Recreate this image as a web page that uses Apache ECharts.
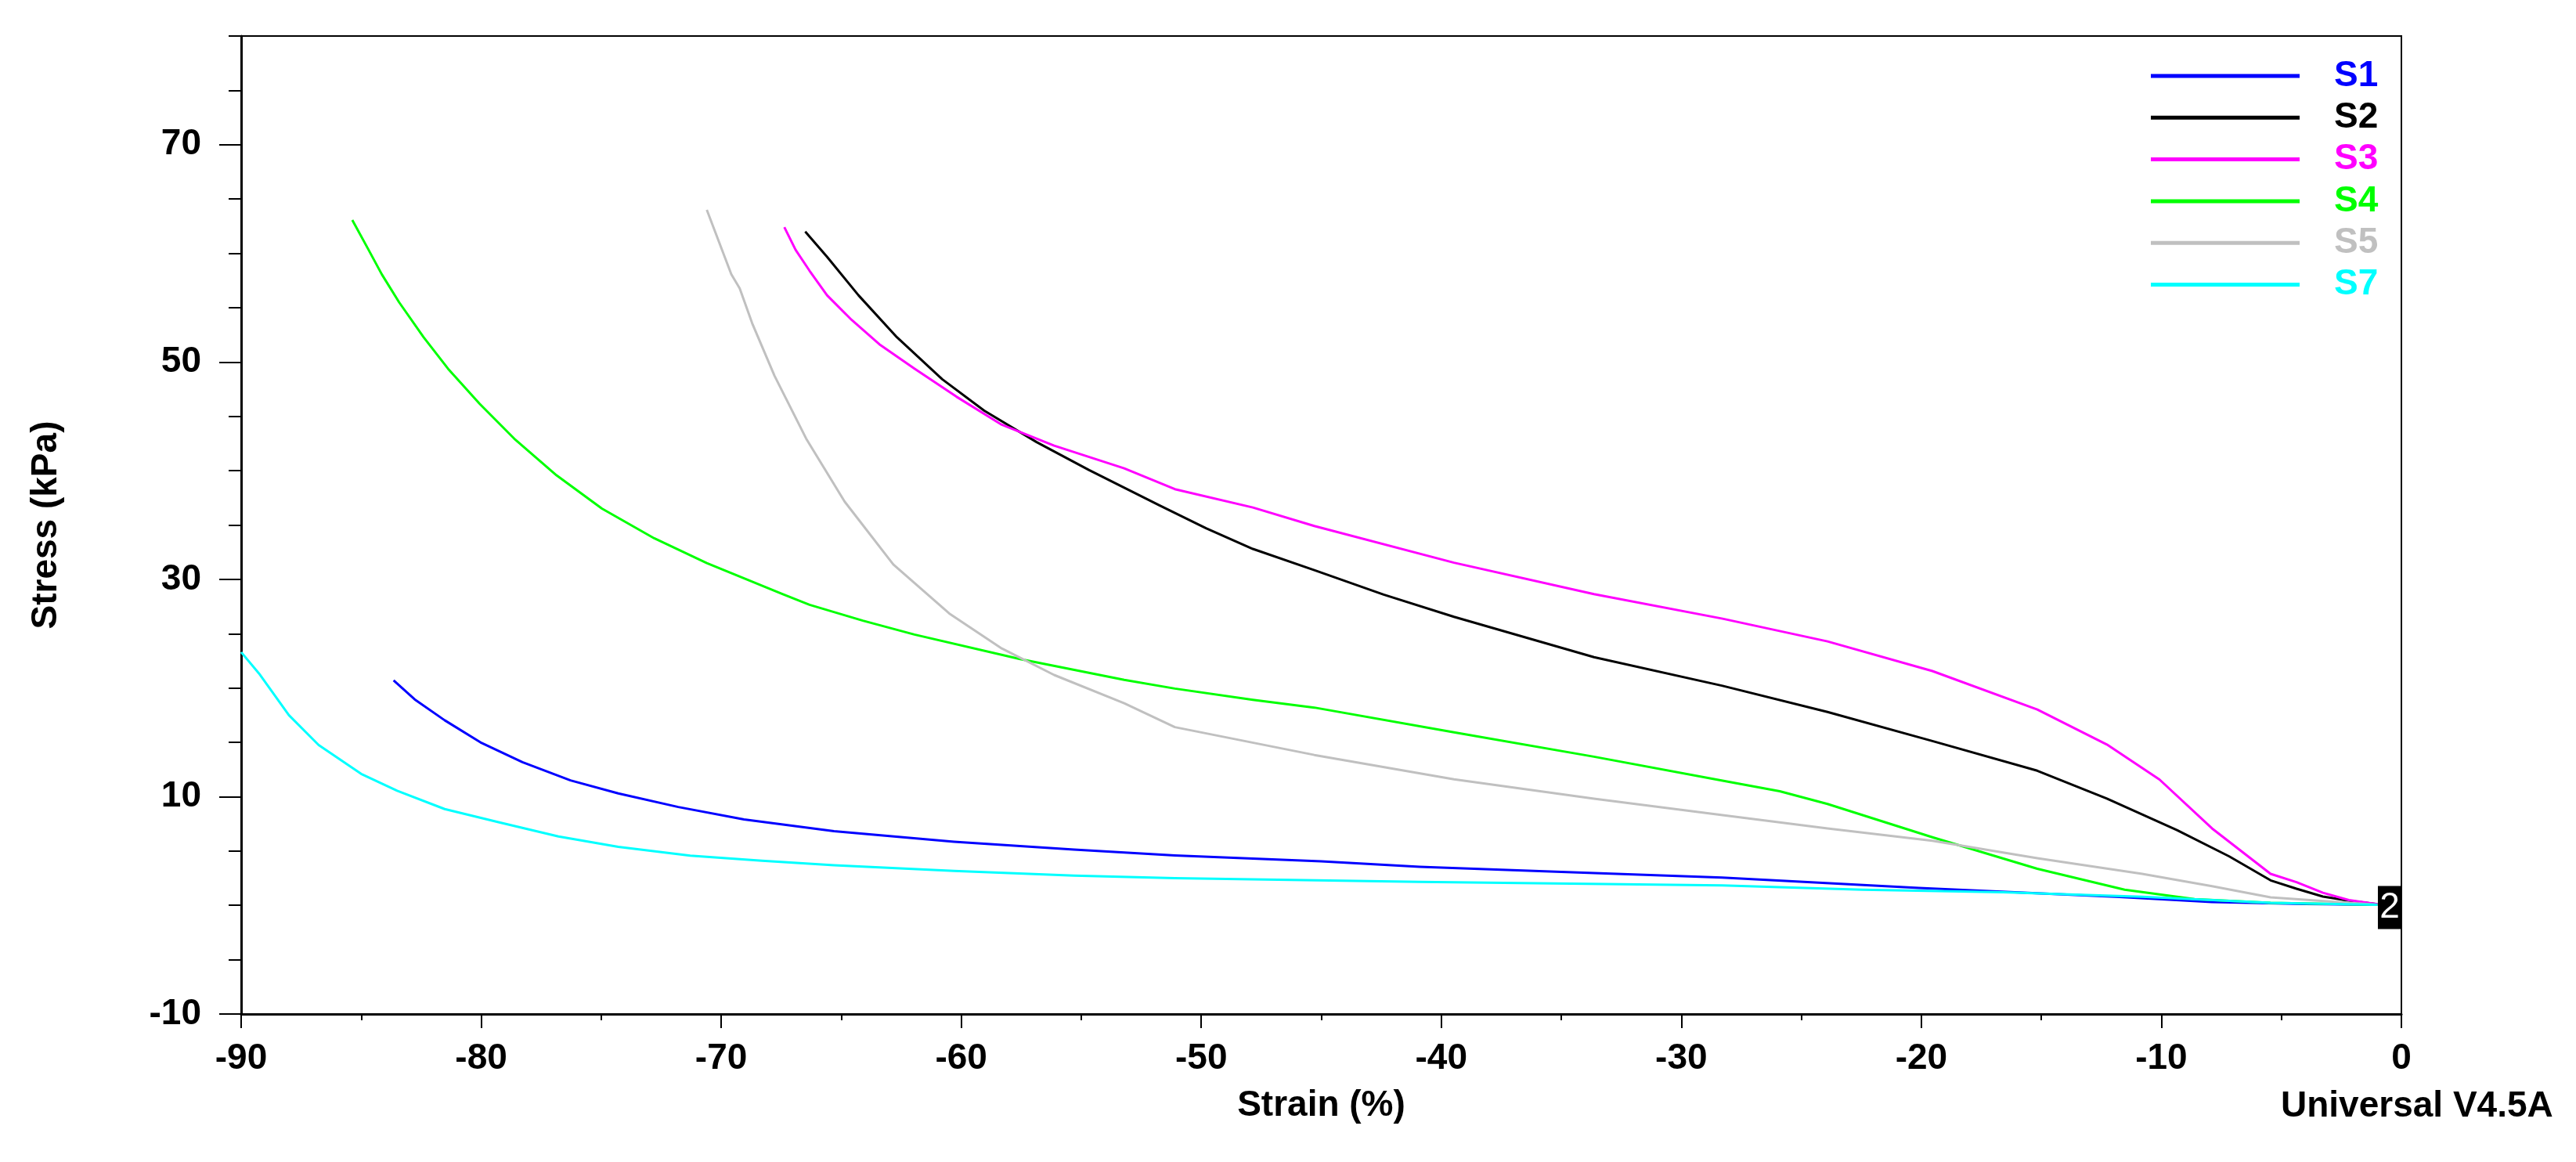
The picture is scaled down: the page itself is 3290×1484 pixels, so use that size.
<!DOCTYPE html>
<html>
<head>
<meta charset="utf-8">
<script src="https://cdn.jsdelivr.net/npm/echarts@6/dist/echarts.min.js"></script>
<style>
html,body{margin:0;padding:0;background:#fff;}
#chart{width:3290px;height:1484px;}
</style>
</head>
<body>
<div id="chart"></div>
<script>
// ---- Data (strain %, stress kPa) ----
const seriesNames = ['S1', 'S2', 'S3', 'S4', 'S5', 'S7'];
const xTickLabels = [-90, -80, -70, -60, -50, -40, -30, -20, -10, 0];
const yTickLabels = [-10, 10, 30, 50, 70];

const s1 = [[-83.65,20.7],[-82.77,18.95],[-81.52,17.03],[-80.03,15.0],[-78.28,13.18],[-76.28,11.5],[-74.29,10.3],[-71.79,9.05],[-69.05,7.9],[-65.3,6.82],[-60.3,5.86],[-55.3,5.14],[-51.1,4.6],[-45,4.05],[-40.9,3.55],[-35,3.08],[-28.3,2.55],[-20.1,1.61],[-11.75,0.77],[-7.9,0.31],[-4,0.12],[-1,0.05]];
const s2 = [[-66.5,62.0],[-65.59,59.68],[-64.28,56.14],[-62.68,52.28],[-60.79,48.41],[-59.04,45.52],[-56.86,42.63],[-54.67,40.05],[-51.76,36.83],[-49.8,34.7],[-47.85,32.8],[-45.29,30.85],[-42.4,28.6],[-39.47,26.55],[-33.64,22.84],[-28.28,20.2],[-23.91,17.8],[-19.54,15.12],[-15.17,12.39],[-12.27,9.82],[-9.35,6.92],[-7.17,4.5],[-5.45,2.3],[-4.37,1.53],[-3.27,0.81],[-2.19,0.43],[-1,0.1]];
const s3 = [[-67.37,62.41],[-66.9,60.32],[-66.32,58.4],[-65.59,56.14],[-64.57,53.88],[-63.41,51.63],[-61.95,49.39],[-60.2,46.81],[-58.31,44.23],[-56.13,42.3],[-53.21,40.21],[-51.1,38.3],[-47.85,36.61],[-45.29,34.91],[-39.47,31.53],[-33.64,28.64],[-28.28,26.38],[-23.91,24.29],[-19.54,21.56],[-15.17,18.02],[-12.27,14.8],[-10.08,11.58],[-7.89,7.08],[-5.45,2.9],[-4.37,2.13],[-3.27,1.16],[-2.19,0.48],[-1,0.1]];
const s4 = [[-85.37,63.06],[-84.73,60.48],[-84.14,58.07],[-83.42,55.5],[-82.4,52.28],[-81.38,49.38],[-80.07,46.17],[-78.62,42.94],[-76.86,39.57],[-74.97,36.51],[-72.79,33.78],[-70.6,31.5],[-67.43,28.63],[-66.32,27.66],[-64.1,26.2],[-61.95,24.92],[-57.58,22.68],[-53.21,20.75],[-51.1,19.95],[-47.85,18.92],[-45.29,18.2],[-39.47,15.92],[-33.64,13.68],[-28.28,11.47],[-25.9,10.5],[-23.91,9.33],[-19.54,6.27],[-15.17,3.37],[-11.53,1.44],[-8.62,0.58],[-5.45,0.24],[-1,0.05]];
const s5 = [[-70.6,64.0],[-69.58,58.07],[-69.23,56.78],[-68.71,53.57],[-67.78,48.74],[-66.46,42.95],[-64.86,37.16],[-62.83,31.37],[-60.5,26.86],[-58.31,23.64],[-56.13,21.2],[-53.21,18.6],[-51.1,16.4],[-45.29,13.84],[-39.47,11.6],[-33.64,9.82],[-28.28,8.3],[-23.91,7.08],[-19.54,5.95],[-15.17,4.34],[-10.8,2.9],[-7.89,1.77],[-5.45,0.74],[-3,0.35],[-1,0.05]];
const s7 = [[-90,23.3],[-89.26,21.35],[-88.01,17.5],[-86.77,14.75],[-85.0,12.1],[-83.5,10.54],[-81.52,8.86],[-79.28,7.66],[-76.78,6.34],[-74.29,5.38],[-71.29,4.58],[-68.3,4.1],[-65.3,3.69],[-60.3,3.16],[-55.3,2.73],[-51.1,2.5],[-40.9,2.16],[-28.3,1.83],[-22.46,1.44],[-16.6,1.21],[-10.8,0.79],[-5.45,0.24],[-1,0.05]];
const endLabel = {text: '2', at: [-0.49, -0.2]};

const seriesData = [s1, s2, s3, s4, s5, s7];
const colors = ['#0000ff', '#000000', '#ff00ff', '#00ff00', '#c0c0c0', '#00ffff'];

const FONT = 'Liberation Sans, Arial, sans-serif';
const GRID = {left: 308, right: 223, top: 46, bottom: 189};

const chart = echarts.init(document.getElementById('chart'), null, {renderer: 'canvas'});

const series = seriesNames.map((name, i) => {
  const s = {
    name: name,
    type: 'line',
    xAxisIndex: 0,
    yAxisIndex: 0,
    data: seriesData[i],
    showSymbol: false,
    symbol: 'none',
    smooth: false,
    color: colors[i],
    lineStyle: {width: 3, color: colors[i], join: 'round'},
    animation: false
  };
  if (name === 'S2') {
    s.markPoint = {
      symbol: 'rect',
      symbolSize: [30, 55],
      itemStyle: {color: '#000'},
      label: {show: true, position: 'inside', color: '#fff', fontFamily: FONT, fontSize: 46, fontWeight: 'normal', formatter: endLabel.text},
      data: [{coord: endLabel.at}],
      animation: false
    };
  }
  return s;
});

const option = {
  backgroundColor: '#ffffff',
  animation: false,
  grid: [
    Object.assign({show: true, borderColor: '#000', borderWidth: 2, backgroundColor: 'transparent'}, GRID),
    Object.assign({show: false}, GRID)
  ],
  legend: {
    orient: 'vertical',
    left: 2747,
    top: 66,
    padding: 0,
    itemWidth: 190,
    itemHeight: 5,
    itemGap: -8.7,
    icon: 'rect',
    selectedMode: false,
    textStyle: {fontFamily: FONT, fontSize: 46, fontWeight: 'bold', lineHeight: 46, padding: [0, 0, 16, 39]},
    data: seriesNames.map((n, i) => ({name: n, textStyle: {color: colors[i]}}))
  },
  xAxis: [
    {
      type: 'value', gridIndex: 0, min: -90, max: 0, interval: 5,
      name: 'Strain (%)', nameLocation: 'middle', nameGap: 94,
      nameTextStyle: {fontFamily: FONT, fontSize: 46, fontWeight: 'bold', color: '#000'},
      axisLine: {show: true, onZero: false, lineStyle: {color: '#000', width: 3}},
      axisTick: {show: true, inside: false, length: 8, lineStyle: {color: '#000', width: 2}},
      axisLabel: {show: true, customValues: xTickLabels, margin: 34, fontFamily: FONT, fontSize: 46, fontWeight: 'bold', color: '#000', lineHeight: 46},
      splitLine: {show: false}
    },
    {
      type: 'value', gridIndex: 1, min: -90, max: 0, interval: 10,
      axisLine: {show: false, onZero: false},
      axisTick: {show: true, inside: false, length: 18, customValues: xTickLabels, lineStyle: {color: '#000', width: 2}},
      axisLabel: {show: false},
      splitLine: {show: false}
    }
  ],
  yAxis: [
    {
      type: 'value', gridIndex: 0, min: -10, max: 80, interval: 5,
      name: 'Stress (kPa)', nameLocation: 'middle', nameGap: 226,
      nameTextStyle: {fontFamily: FONT, fontSize: 46, fontWeight: 'bold', color: '#000'},
      axisLine: {show: true, onZero: false, lineStyle: {color: '#000', width: 3}},
      axisTick: {show: true, inside: false, length: 16, lineStyle: {color: '#000', width: 2}},
      axisLabel: {show: true, customValues: yTickLabels, margin: 51, fontFamily: FONT, fontSize: 46, fontWeight: 'bold', color: '#000'},
      splitLine: {show: false}
    },
    {
      type: 'value', gridIndex: 1, min: -10, max: 80, interval: 5,
      axisLine: {show: false, onZero: false},
      axisTick: {show: true, inside: false, length: 28, customValues: yTickLabels, lineStyle: {color: '#000', width: 2}},
      axisLabel: {show: false},
      splitLine: {show: false}
    }
  ],
  graphic: [
    {
      type: 'text', left: 2913, top: 1390,
      style: {text: 'Universal V4.5A', font: 'bold 46px ' + FONT, fill: '#000'}
    }
  ],
  series: series
};

chart.setOption(option);
</script>
</body>
</html>
